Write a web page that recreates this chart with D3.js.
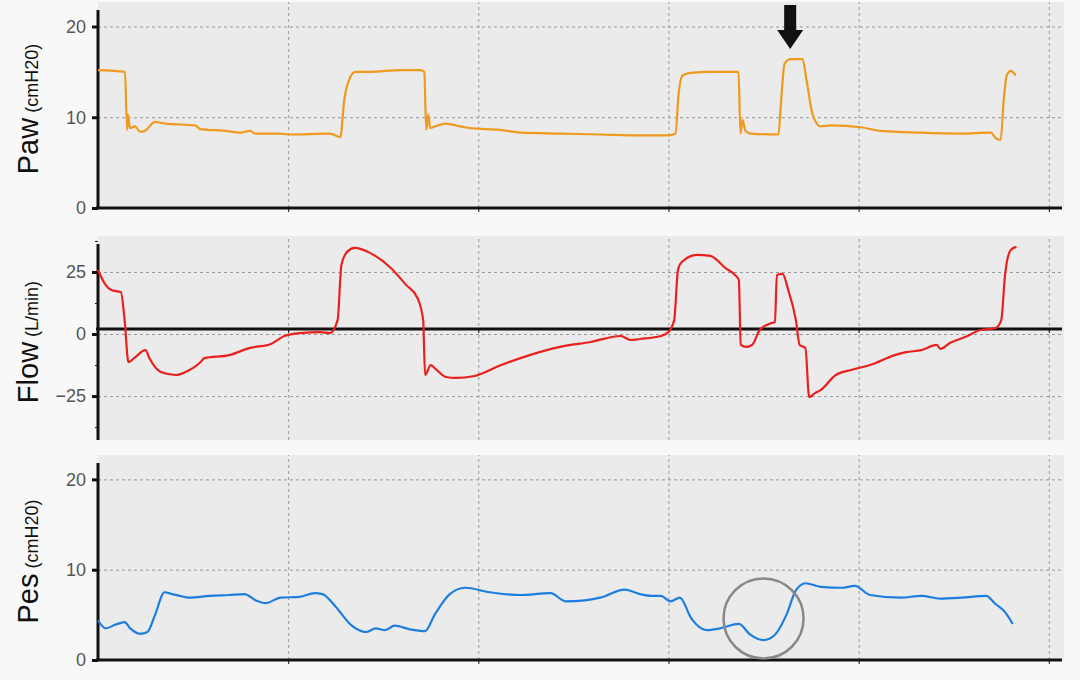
<!DOCTYPE html>
<html>
<head>
<meta charset="utf-8">
<script src="https://cdn.jsdelivr.net/npm/d3@7"></script>
<style>
body { margin: 0; background: #f8f8f8; font-family: "Liberation Sans", Arial, sans-serif; }
.grid line { stroke: #999; stroke-dasharray: 3,3; stroke-width: 1; }
.grid path { display: none; }
.ax path, .ax line { stroke: #111; }
.ax text { font-size: 18px; fill: #555; }
</style>
</head>
<body>
<div id="chart"></div>
<script>
// time in seconds
var pawT = [0,.142,.153,.158,.168,.195,.221,.247,.3,.353,.511,.537,.668,.747,.8,.826,.958,1.0,1.221,1.274,1.295,1.326,1.353,1.432,1.589,1.695,1.716,1.726,1.737,1.747,1.774,1.826,1.905,1.958,2.116,2.221,2.432,2.642,2.853,3.0,3.037,3.053,3.074,3.116,3.221,3.368,3.379,3.389,3.405,3.432,3.579,3.589,3.611,3.642,3.705,3.726,3.758,3.8,3.853,4.011,4.116,4.326,4.537,4.695,4.721,4.747,4.763,4.779,4.8,4.826];
var pawV = [15.2,15.0,8.6,10.3,8.8,9.0,8.4,8.5,9.5,9.3,9.1,8.7,8.5,8.3,8.5,8.2,8.2,8.1,8.2,7.8,11.9,14.4,15.0,15.0,15.2,15.2,15.0,8.6,10.3,8.8,9.0,9.3,9.0,8.8,8.6,8.3,8.2,8.1,8.0,8.0,8.2,12.5,14.6,14.9,15.0,15.0,8.2,9.7,8.5,8.2,8.1,10.8,15.9,16.4,16.4,14.1,10.3,9.0,9.1,8.9,8.5,8.3,8.2,8.3,7.7,7.5,11.9,14.6,15.1,14.6];

var flowT = [0,.04,.07,.12,.14,.16,.19,.25,.27,.33,.41,.46,.54,.56,.69,.80,.91,.98,1.06,1.17,1.22,1.26,1.28,1.31,1.35,1.43,1.54,1.62,1.68,1.71,1.72,1.75,1.77,1.83,1.88,1.98,2.12,2.27,2.43,2.59,2.75,2.80,2.85,2.96,3.0,3.03,3.05,3.07,3.15,3.22,3.30,3.35,3.37,3.38,3.41,3.44,3.48,3.54,3.56,3.57,3.60,3.63,3.67,3.69,3.72,3.74,3.77,3.80,3.88,3.96,4.06,4.19,4.25,4.33,4.41,4.43,4.48,4.56,4.64,4.72,4.75,4.77,4.80,4.83];
var flowV = [25.8,19.8,17.7,16.9,5.6,-11.3,-9.7,-6.5,-9.7,-15.3,-16.5,-15.3,-11.3,-9.7,-8.5,-5.6,-4.0,-0.8,0.4,0.8,0.4,5.6,27.8,33.1,34.7,32.7,26.6,19.8,14.5,5.6,-16.5,-12.5,-13.7,-17.3,-17.7,-16.9,-12.5,-8.5,-5.2,-3.2,-0.8,-2.4,-2.0,-0.8,0.8,5.6,25.8,29.0,31.9,31.5,26.6,23.8,21.8,-4.4,-5.2,-4.4,1.6,4.4,4.8,23.8,24.2,17.7,5.6,-4.4,-5.6,-25.4,-23.8,-22.6,-16.5,-14.5,-12.5,-8.5,-7.3,-6.5,-4.4,-6.0,-3.6,-1.2,1.6,2.4,5.6,23.8,33.9,35.1];

var pesT = [0,.04,.09,.14,.17,.22,.26,.30,.35,.39,.43,.48,.59,.69,.77,.83,.88,.96,1.06,1.14,1.18,1.25,1.33,1.41,1.46,1.51,1.56,1.64,1.72,1.77,1.85,1.93,2.06,2.22,2.38,2.46,2.56,2.64,2.77,2.85,2.91,2.96,3.01,3.06,3.12,3.20,3.27,3.37,3.43,3.50,3.56,3.62,3.67,3.72,3.80,3.91,3.98,4.06,4.22,4.33,4.43,4.54,4.67,4.72,4.77,4.81];
var pesV = [4.4,3.5,3.9,4.2,3.5,2.9,3.1,5.0,7.5,7.3,7.1,6.9,7.1,7.2,7.3,6.6,6.3,6.9,7.0,7.4,7.3,5.9,3.9,3.1,3.5,3.3,3.8,3.4,3.2,5.0,7.3,8.0,7.5,7.2,7.4,6.5,6.6,6.9,7.8,7.3,7.1,7.1,6.5,6.9,4.6,3.3,3.5,4.0,2.8,2.2,2.8,5.0,7.7,8.5,8.1,8.0,8.2,7.2,6.9,7.1,6.8,6.9,7.1,6.2,5.3,4.0];

var panels = [
  { name: "Paw", unit: "(cmH20)", t: pawT, v: pawV, color: "#ef9a1e", top: 2, bottom: 208, domain: [0, 22.7], ticks: [0, 10, 20] },
  { name: "Flow", unit: "(L/min)", t: flowT, v: flowV, color: "#e8201e", top: 236, bottom: 440, domain: [-42.7, 39.5], ticks: [-25, 0, 25] },
  { name: "Pes", unit: "(cmH20)", t: pesT, v: pesV, color: "#1c7fe0", top: 455, bottom: 660, domain: [0, 22.7], ticks: [0, 10, 20] }
];
var timeTicks = [1, 2, 3, 4, 5];

var svg = d3.select("#chart").append("svg").attr("width", 1080).attr("height", 680);
var x = d3.scaleLinear().domain([0, 5.08]).range([98, 1064]);

panels.forEach(function (p) {
  var y = d3.scaleLinear().domain(p.domain).range([p.bottom, p.top]);
  var g = svg.append("g");
  g.append("rect").attr("x", 98).attr("y", p.top).attr("width", 966).attr("height", p.bottom - p.top).attr("fill", "#ebebeb");

  g.append("g").attr("class", "grid")
    .attr("transform", "translate(0," + p.bottom + ")")
    .call(d3.axisBottom(x).tickValues(timeTicks).tickSize(-(p.bottom - p.top)).tickFormat(""));
  g.append("g").attr("class", "grid")
    .attr("transform", "translate(98,0)")
    .call(d3.axisLeft(y).tickValues(p.ticks).tickSize(-966).tickFormat(""));

  // bottom axis (flow uses the zero line)
  var by = p.name == "Flow" ? y(0) - 5 : p.bottom;
  var bx = g.append("g").attr("class", "ax").attr("transform", "translate(0," + by + ")")
    .call(d3.axisBottom(x).tickValues(timeTicks).tickSize(4).tickFormat(""));
  bx.select("path").attr("d", "M96,0H1062").attr("stroke-width", 3);

  var ly = g.append("g").attr("class", "ax").attr("transform", "translate(98,0)")
    .call(d3.axisLeft(y).tickValues(p.ticks).tickSize(6).tickPadding(6));
  ly.select("path").attr("d", "M0," + (p.top + 8) + "V" + p.bottom).attr("stroke-width", 3);
  ly.selectAll("line").attr("stroke-width", 3);
  if (p.name == "Flow") {
    g.append("g").attr("class", "ax").attr("transform", "translate(98,0)")
      .call(d3.axisLeft(y).tickValues([37.5, 12.5, -12.5, -37.5]).tickSize(3).tickFormat(""))
      .select("path").remove();
  }

  var line = d3.line().x(function (d, i) { return x(p.t[i]); }).y(function (d) { return y(d); }).curve(d3.curveMonotoneX);
  g.append("path").datum(p.v).attr("d", line).attr("fill", "none").attr("stroke", p.color).attr("stroke-width", 2.2);

  var cy = (p.top + p.bottom) / 2 + 4;
  var lab = g.append("text").attr("transform", "translate(38," + cy + ") rotate(-90)").attr("text-anchor", "middle").attr("fill", "#111");
  lab.append("tspan").attr("font-size", 29).text(p.name);
  lab.append("tspan").attr("font-size", 18).text(" " + p.unit);

  p.y = y;
});

// annotations
var py = panels[2].y;
var ax0 = x(3.64);
svg.append("path")
  .attr("d", "M" + (ax0 - 6) + "," + 5 + "H" + (ax0 + 6) + "V" + 30 + "H" + (ax0 + 13) + "L" + ax0 + "," + 49 + "L" + (ax0 - 13) + "," + 30 + "H" + (ax0 - 6) + "Z")
  .attr("fill", "#111");
svg.append("circle").attr("cx", x(3.5)).attr("cy", py(4.6)).attr("r", 40)
  .attr("fill", "none").attr("stroke", "#888").attr("stroke-width", 2.5);
</script>
</body>
</html>
